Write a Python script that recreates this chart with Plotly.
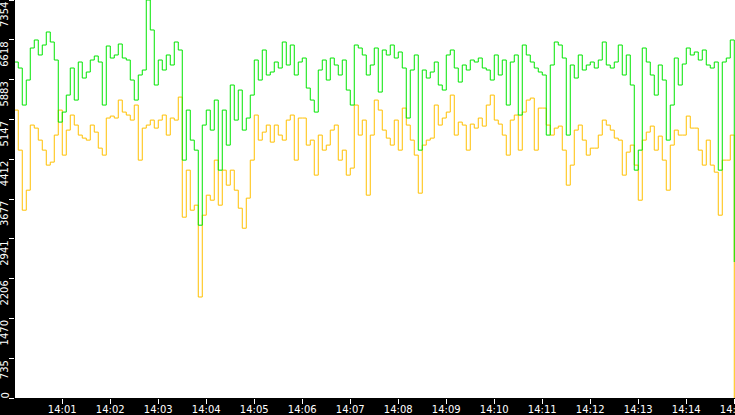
import pandas as pd
import plotly.graph_objects as go

# samples every 5 s, 14:00:00 .. 14:15:00
times = pd.date_range("2024-01-01 14:00:00", periods=181, freq="5s")

green = [
    6208, 6097, 5413, 5875, 6467, 6615, 6338, 6522, 6763, 6578,
    6245, 5098, 5283, 5597, 6097, 5505, 6208, 5912, 6023, 6245,
    6319, 6208, 5413, 6504, 6282, 6338, 6541, 6282, 6245, 5875,
    5505, 5968, 6060, 7354, 6800, 5783, 6245, 6060, 6338, 6153,
    6578, 6430, 4395, 5320, 4765, 4580, 3193, 5043, 5320, 4950,
    5505, 4210, 5320, 4673, 5783, 5135, 5690, 4950, 5173, 5597,
    6245, 5875, 6430, 5968, 6023, 6208, 6097, 6578, 6153, 6522,
    5968, 6208, 6282, 5727, 5505, 5283, 6060, 6245, 5875, 6282,
    6153, 5968, 6245, 5690, 5413, 6522, 6467, 6338, 5968, 6153,
    6467, 5653, 6430, 6338, 6522, 6282, 6393, 6097, 5173, 6060,
    6338, 4580, 6060, 5912, 6023, 6208, 5783, 5690, 6338, 6430,
    6097, 5838, 6153, 6060, 6245, 6208, 6282, 6097, 6060, 5875,
    6338, 5968, 6245, 5413, 6208, 6338, 5228, 6522, 6338, 6208,
    6097, 6023, 5968, 4858, 6153, 6578, 6522, 6282, 4858, 6153,
    5912, 6338, 6060, 6153, 6208, 6097, 6245, 6578, 6153, 6097,
    6208, 6522, 5968, 6338, 5783, 4210, 4580, 6467, 6208, 5968,
    5597, 6153, 5875, 4765, 5413, 6282, 5783, 6171, 6467, 6338,
    6393, 6245, 6430, 6153, 6097, 6208, 4210, 6208, 6282, 6615,
    2513,
]

yellow = [
    5320, 4580, 3470, 3840, 5043, 4987, 4765, 4580, 4303, 4358,
    4858, 5320, 4488, 4950, 5228, 5043, 4858, 4802, 4765, 5043,
    4913, 4617, 4488, 5173, 5209, 5173, 5505, 5283, 5228, 5135,
    5413, 4395, 4987, 5043, 5135, 4987, 5135, 5228, 4858, 5173,
    5135, 5560, 3341, 4210, 3470, 3563, 1866, 3378, 3748, 3655,
    4395, 3563, 4210, 3933, 4210, 3840, 3507, 3137, 3693, 4395,
    5228, 4765, 4913, 5043, 4728, 5043, 4858, 4765, 5135, 5228,
    4395, 5173, 5173, 4673, 4765, 4118, 4858, 4580, 4673, 4950,
    5043, 4395, 4580, 4118, 4248, 5413, 4858, 5135, 3748, 4858,
    5505, 5320, 4950, 4802, 4673, 5135, 4580, 5357, 5043, 4765,
    4488, 3785, 4673, 4765, 4802, 5413, 5043, 5173, 5283, 5597,
    4858, 5098, 5043, 4580, 5061, 4987, 5173, 5024, 5413, 5597,
    5135, 5061, 4858, 4488, 5135, 5228, 4580, 5283, 5505, 5542,
    4580, 5357, 5357, 5043, 4858, 4987, 5024, 4580, 3933, 4303,
    4950, 5043, 4765, 4488, 4617, 4617, 4858, 5135, 5043, 4950,
    4802, 4765, 4118, 4543, 4673, 4303, 3655, 4765, 4913, 5024,
    4580, 4839, 4395, 3840, 4673, 4950, 4858, 4858, 5209, 4987,
    4987, 4580, 4303, 4765, 4303, 4173, 3378, 4395, 4395, 4858,
    0,
]

y_ticks = [0, 735.4, 1470.8, 2206.2, 2941.6, 3677, 4412.4, 5147.8, 5883.2, 6618.6, 7354]
y_labels = ["0", "735", "1470", "2206", "2941", "3677", "4412", "5147", "5883", "6618", "7354"]

font = dict(family="DejaVu Sans", size=10, color="white")

fig = go.Figure()
fig.add_trace(go.Scatter(x=times, y=yellow, mode="lines", line_shape="hv",
                         line=dict(color="#ffc000", width=1)))
fig.add_trace(go.Scatter(x=times, y=green, mode="lines", line_shape="hv",
                         line=dict(color="#00e600", width=1)))

# rotated y labels sitting just under their tick
for v, t in zip(y_ticks, y_labels):
    fig.add_annotation(x=0, xref="paper", y=v, yref="y", text=t, showarrow=False,
                       textangle=-90, xanchor="right", xshift=-3,
                       yanchor="bottom" if v == 0 else "top",
                       yshift=-3 if v == 0 else 0, font=font)

fig.update_layout(
    template="none",
    width=735, height=415,
    margin=dict(l=15, r=0, t=0, b=17),
    paper_bgcolor="black",
    plot_bgcolor="white",
    showlegend=False,
)
fig.update_xaxes(
    range=["2024-01-01 14:00:00.9", "2024-01-01 14:15:00.9"],
    tickformat="%H:%M", dtick=60000, tick0="2024-01-01 14:00:00",
    showgrid=False, zeroline=False, showline=False, automargin=False,
    ticks="outside", ticklen=5, tickwidth=1, tickcolor="white", tickfont=font,
    ticklabelstandoff=-3, ticklabeloverflow="allow",
)
fig.update_yaxes(
    range=[0, 7354], tickvals=y_ticks, showticklabels=False,
    showgrid=False, zeroline=False, showline=False, automargin=False,
    ticks="outside", ticklen=5, tickwidth=1, tickcolor="white",
)

# the page's default body margin would shift the chart by 8 px
fig.write_html("out.html", config={"displayModeBar": False},
               post_script="document.body.style.margin='0';")
